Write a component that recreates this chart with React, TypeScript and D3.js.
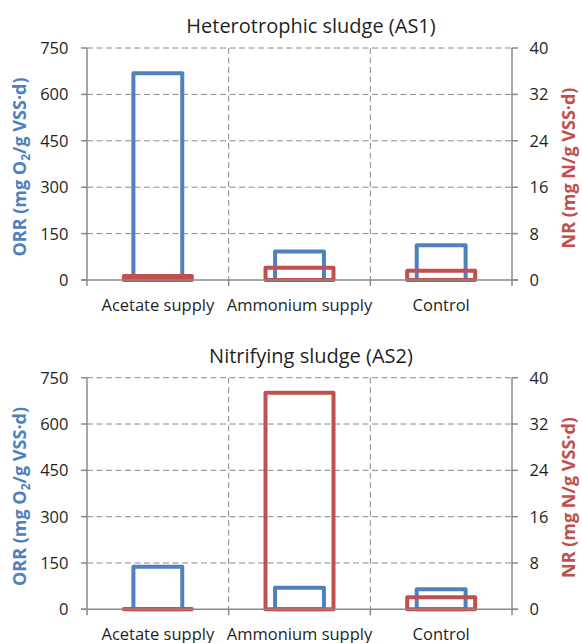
import React from 'react';
import * as d3 from 'd3';

// categories and values
const categories = ['Acetate supply', 'Ammonium supply', 'Control'];
const orrTicks = [0, 150, 300, 450, 600, 750];
const nrTicks = [0, 8, 16, 24, 32, 40];

// heterotrophic sludge (AS1)
const as1Orr = [668, 92, 112];
const as1Nr = [0.7, 2.1, 1.6];

// nitrifying sludge (AS2)
const as2Orr = [138, 70, 65];
const as2Nr = [0.05, 37.4, 2.1];

const BLUE = '#4f81bd';
const RED = '#c0504d';
const GRID = '#8a8a8a';
const TEXT = '#1f1f1f';
const FONT = '"Open Sans", "DejaVu Sans", sans-serif';

const W = 582;
const H = 643;
const left = 87;
const right = 512;

interface PanelProps {
  title: string;
  orr: number[];
  nr: number[];
  top: number;
  bottom: number;
}

const Panel: React.FC<PanelProps> = ({ title, orr, nr, top, bottom }) => {
  const x = d3.scaleBand<string>().domain(categories).range([left, right]).padding(0);
  const xBlue = d3.scaleBand<string>().domain(categories).range([left, right])
    .paddingInner(0.655).paddingOuter(0.655 / 2);
  const xRed = d3.scaleBand<string>().domain(categories).range([left, right])
    .paddingInner(0.52).paddingOuter(0.52 / 2);
  const yOrr = d3.scaleLinear().domain([0, 750]).range([bottom, top]);
  const yNr = d3.scaleLinear().domain([0, 40]).range([bottom, top]);
  const mid = (top + bottom) / 2;

  const dividers = categories.slice(1).map(c => x(c)!);
  const catTicks = [...categories.map(c => x(c)!), right];

  return (
    <g>
      <text x={311} y={top - 15} textAnchor="middle" fontSize={20} fill={TEXT}>{title}</text>

      {/* horizontal gridlines */}
      {orrTicks.filter(t => t > 0).map(t => (
        <line key={'h' + t} x1={left} x2={right} y1={yOrr(t)} y2={yOrr(t)}
          stroke={GRID} strokeWidth={1} strokeDasharray="6,3.5" />
      ))}
      {/* vertical gridlines between categories */}
      {dividers.map((d, i) => (
        <line key={'v' + i} x1={d} x2={d} y1={top} y2={bottom}
          stroke={GRID} strokeWidth={1} strokeDasharray="6,3.5" />
      ))}

      {/* ORR bars (blue outlines) */}
      {categories.map((c, i) => (
        <rect key={'b' + c} x={xBlue(c)} y={yOrr(orr[i])} width={xBlue.bandwidth()}
          height={bottom - yOrr(orr[i])} fill="none" stroke={BLUE} strokeWidth={4}
          strokeLinejoin="round" />
      ))}
      {/* NR bars (red outlines) */}
      {categories.map((c, i) => (
        <rect key={'r' + c} x={xRed(c)} y={yNr(nr[i])} width={xRed.bandwidth()}
          height={bottom - yNr(nr[i])} fill="none" stroke={RED} strokeWidth={4}
          strokeLinejoin="round" />
      ))}

      {/* axes */}
      <line x1={left} x2={left} y1={top} y2={bottom} stroke={GRID} strokeWidth={1.5} />
      <line x1={right} x2={right} y1={top} y2={bottom} stroke={GRID} strokeWidth={1.5} />
      <line x1={left - 6} x2={right + 6} y1={bottom} y2={bottom} stroke={GRID} strokeWidth={1.5} />
      {orrTicks.map(t => (
        <g key={'lt' + t}>
          <line x1={left - 6} x2={left} y1={yOrr(t)} y2={yOrr(t)} stroke={GRID} strokeWidth={1.5} />
          <text x={68.5} y={yOrr(t)} dy="0.36em" textAnchor="end" fontSize={16.5} fill={TEXT}>{t}</text>
        </g>
      ))}
      {nrTicks.map(t => (
        <g key={'rt' + t}>
          <line x1={right} x2={right + 6} y1={yNr(t)} y2={yNr(t)} stroke={GRID} strokeWidth={1.5} />
          <text x={529.5} y={yNr(t)} dy="0.36em" textAnchor="start" fontSize={16.5} fill={TEXT}>{t}</text>
        </g>
      ))}
      {catTicks.map((p, i) => (
        <line key={'ct' + i} x1={p} x2={p} y1={bottom} y2={bottom + 6} stroke={GRID} strokeWidth={1.5} />
      ))}
      {categories.map(c => (
        <text key={'cl' + c} x={x(c)! + x.bandwidth() / 2} y={bottom + 31} textAnchor="middle"
          fontSize={16.5} fill={TEXT}>{c}</text>
      ))}

      {/* axis titles */}
      <text transform={`translate(26,${mid + 3}) rotate(-90)`} textAnchor="middle"
        fontSize={18} fontWeight="bold" fill={BLUE}>
        ORR (mg O<tspan fontSize={12} dy={4}>2</tspan><tspan dy={-4}>/g VSS·d)</tspan>
      </text>
      <text transform={`translate(575,${mid + 4}) rotate(-90)`} textAnchor="middle"
        fontSize={18} fontWeight="bold" fill={RED}>
        NR (mg N/g VSS·d)
      </text>
    </g>
  );
};

export default function App() {
  return (
    <svg width={W} height={H} style={{ position: 'absolute', left: 0, top: 0, background: '#fff' }}
      fontFamily={FONT}>
      <rect width={W} height={H} fill="#fff" />
      <Panel title="Heterotrophic sludge (AS1)" orr={as1Orr} nr={as1Nr} top={48} bottom={280} />
      <Panel title="Nitrifying sludge (AS2)" orr={as2Orr} nr={as2Nr} top={377.7} bottom={609.3} />
    </svg>
  );
}
